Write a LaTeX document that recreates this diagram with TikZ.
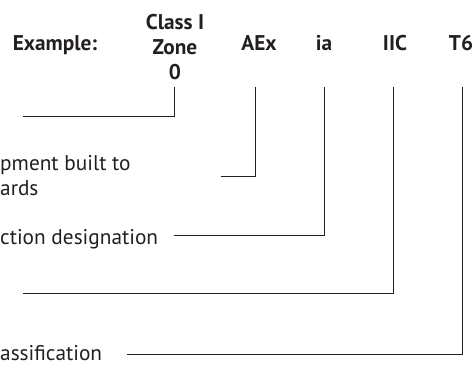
\documentclass[tikz,border=0pt]{standalone}
\usepackage{fontspec}
\setmainfont{PT Sans}
\definecolor{ink}{RGB}{35,31,32}

\begin{document}
\begin{tikzpicture}[
    x=1pt, y=1pt,
    every node/.style={
        inner sep=0pt,
        text=ink,
        font=\fontsize{21.3}{25}\selectfont
    },
    head/.style={
        anchor=base,
        font=\fontsize{21.3}{25}\selectfont\bfseries
    },
    desc/.style={anchor=base west},
    lead/.style={draw=ink, line width=0.9pt}
]
\useasboundingbox (0,0) rectangle (474,365);

% header row
\node[head] (example) at (55,314) {Example:};
\node[head, align=center, anchor=center] (zone) at (175,318) {Class I\\Zone\\0};
\node[head] (aex) at (259,314) {AEx};
\node[head] (ia) at (324,314) {ia};
\node[head] (iic) at (395,314) {IIC};
\node[head] (tsix) at (461,314) {T6};

% descriptions
\node[desc, align=left] (built) at (0,170) {pment built to\\ards};
\node[desc] (prot) at (0,121) {ction designation};
\node[desc] (cls) at (0,5) {assification};

% leader tops and free ends
\coordinate (zone-tip) at (174,278);
\coordinate (aex-tip) at (255,278);
\coordinate (ia-tip) at (324,278);
\coordinate (iic-tip) at (393,278);
\coordinate (tsix-tip) at (462,278);
\coordinate (zone-end) at (23,249);
\coordinate (aex-end) at (221,189);
\coordinate (ia-end) at (174,130);
\coordinate (iic-end) at (23,72);
\coordinate (tsix-end) at (127,11);

\draw[lead] (zone-tip) |- (zone-end);
\draw[lead] (aex-tip) |- (aex-end);
\draw[lead] (ia-tip) |- (ia-end);
\draw[lead] (iic-tip) |- (iic-end);
\draw[lead] (tsix-tip) |- (tsix-end);

\end{tikzpicture}
\end{document}
